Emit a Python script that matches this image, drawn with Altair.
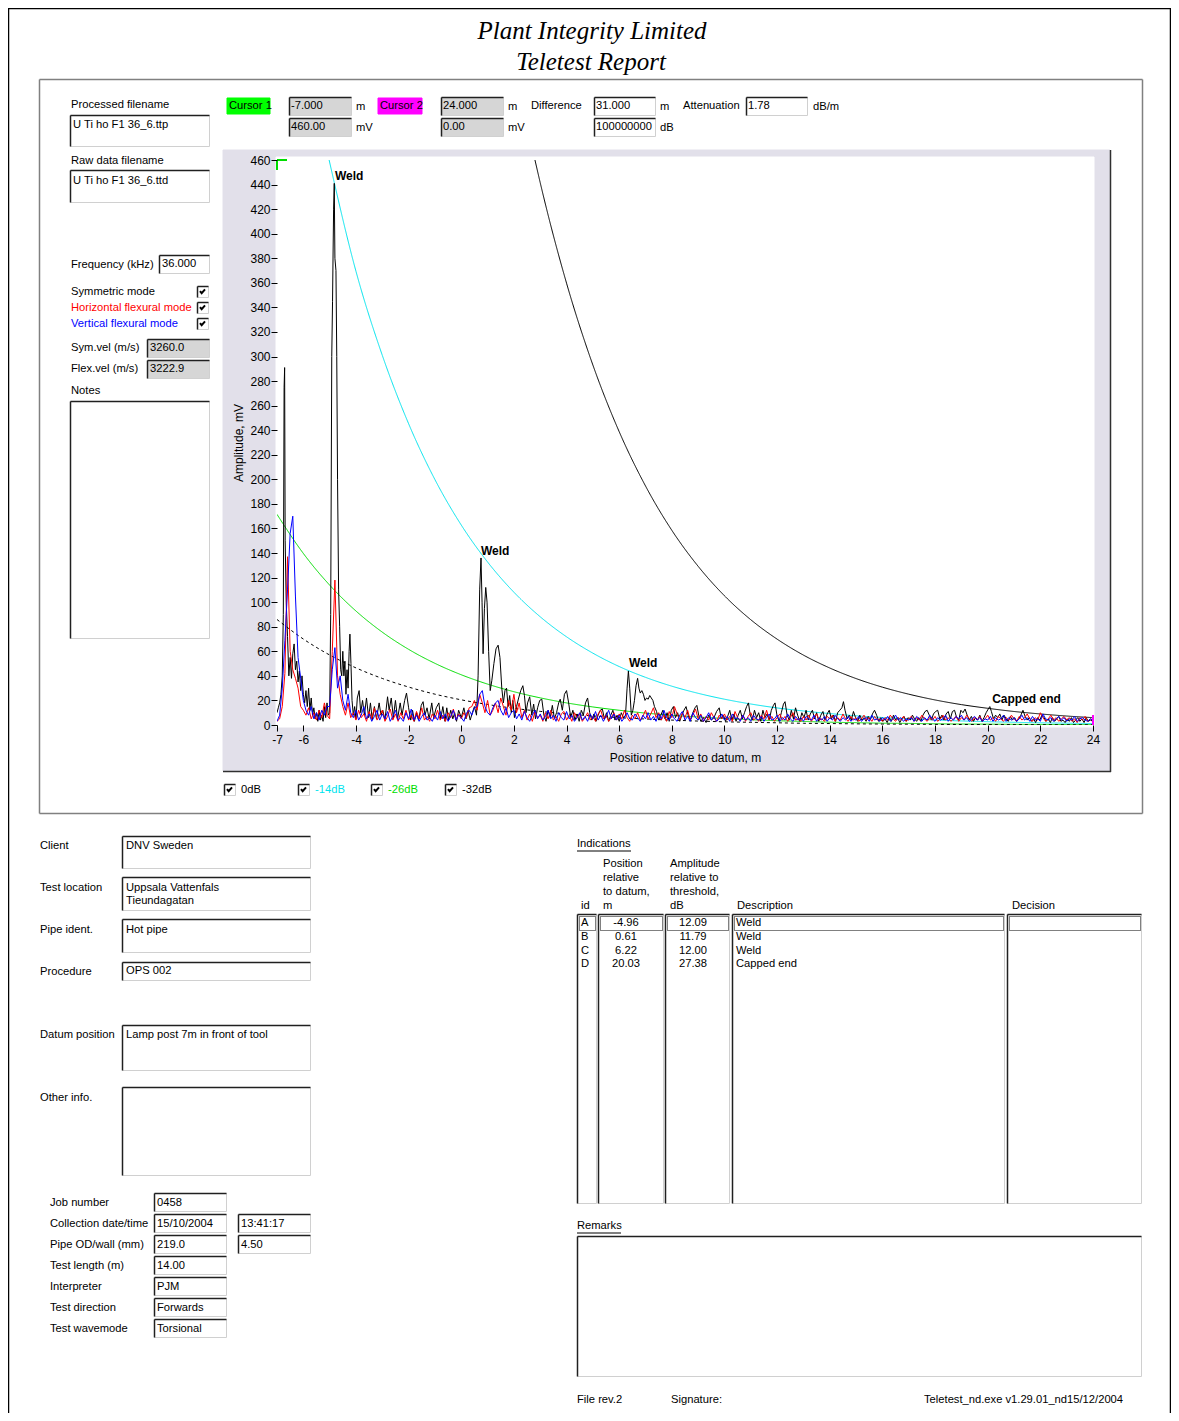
import altair as alt
import pandas as pd

# ---------------- chart values ----------------
x_ticks = [-7, -6, -4, -2, 0, 2, 4, 6, 8, 10, 12, 14, 16, 18, 20, 22, 24]
y_ticks = list(range(0, 461, 20))

dac_names = ["0dB", "-14dB", "-26dB", "-32dB"]
dac_colors = ["#000000", "#00e4ee", "#00dd00", "#000000"]

dac0_pos = [2.8, 3, 4, 5, 6, 7, 8, 9, 10, 11, 12, 13, 14, 15, 16, 17, 18, 19, 20, 21, 22, 23, 24]
dac0_amp = [460, 441.5, 359.7, 293.1, 238.8, 194.6, 158.5, 129.2, 105.2, 85.7, 69.9, 56.9,
            46.4, 37.8, 30.8, 25.1, 20.4, 16.6, 13.6, 11.0, 9.0, 7.3, 6.0]
dac14_pos = [-5.02, -4, -3, -2, -1, 0, 1, 2, 3, 4, 5, 6, 7, 8, 9, 10, 11, 12, 13, 14, 15,
             16, 17, 18, 19, 20, 21, 22, 23, 24]
dac14_amp = [460, 369.4, 301.0, 245.3, 199.8, 162.8, 132.7, 108.1, 88.1, 71.8, 58.5, 47.6,
             38.8, 31.6, 25.8, 21.0, 17.1, 13.9, 11.4, 9.3, 7.5, 6.1, 5.0, 4.1, 3.3, 2.7,
             2.2, 1.8, 1.5, 1.2]
dac26_pos = [-7, -6, -5, -4, -3, -2, -1, 0, 1, 2, 3, 4, 5, 6, 7, 8, 9, 10, 11, 12, 13, 14,
             15, 16, 17, 18, 19, 20, 21, 22, 23, 24]
dac26_amp = [171.5, 139.7, 113.9, 92.8, 75.6, 61.6, 50.2, 40.9, 33.3, 27.1, 22.1, 18.0, 14.7,
             12.0, 9.7, 7.9, 6.5, 5.3, 4.3, 3.5, 2.9, 2.3, 1.9, 1.5, 1.3, 1.0, 0.8, 0.7,
             0.55, 0.45, 0.37, 0.3]
dac32_pos = [-7, -6, -5, -4, -3, -2, -1, 0, 1, 2, 3, 4, 5, 6, 7, 8, 9, 10, 11, 12, 13, 14,
             15, 16, 17, 18, 19, 20, 21, 22, 23, 24]
dac32_amp = [85.9, 70.0, 57.0, 46.5, 37.9, 30.9, 25.1, 20.5, 16.7, 13.6, 11.1, 9.0, 7.4, 6.0,
             4.9, 4.0, 3.2, 2.6, 2.2, 1.8, 1.4, 1.2, 0.95, 0.77, 0.63, 0.51, 0.42, 0.34,
             0.28, 0.23, 0.18, 0.15]

# symmetric-mode trace (black), read as (position m, amplitude mV)
black_trace = [
    (-7.00, 10), (-6.95, 14), (-6.90, 18), (-6.85, 25), (-6.80, 40), (-6.76, 90), (-6.73, 275),
    (-6.71, 291), (-6.69, 150), (-6.65, 100), (-6.60, 72), (-6.55, 40), (-6.50, 55), (-6.45, 38),
    (-6.40, 58), (-6.35, 66), (-6.30, 45), (-6.25, 52), (-6.20, 35), (-6.15, 44), (-6.10, 28),
    (-6.05, 40), (-6.00, 25), (-5.95, 18), (-5.90, 28), (-5.85, 15), (-5.80, 30), (-5.75, 12),
    (-5.70, 22), (-5.65, 8), (-5.60, 14), (-5.55, 5), (-5.50, 10), (-5.45, 3), (-5.40, 12),
    (-5.35, 4), (-5.30, 8), (-5.25, 3), (-5.20, 15), (-5.15, 6), (-5.10, 18), (-5.05, 8),
    (-5.00, 10), (-4.96, 90), (-4.92, 300), (-4.89, 345), (-4.85, 420), (-4.825, 441),
    (-4.80, 380), (-4.76, 370), (-4.73, 300), (-4.70, 200), (-4.66, 110), (-4.62, 80),
    (-4.58, 45), (-4.54, 40), (-4.50, 60), (-4.46, 40), (-4.42, 52), (-4.38, 25), (-4.34, 45),
    (-4.30, 30), (-4.26, 60), (-4.23, 74), (-4.19, 50), (-4.15, 20), (-4.10, 8), (-4.05, 15),
    (-4.00, 5), (-3.95, 22), (-3.88, 28), (-3.82, 10), (-3.75, 20), (-3.68, 8), (-3.60, 22),
    (-3.52, 6), (-3.45, 18), (-3.38, 4), (-3.30, 15), (-3.22, 5), (-3.12, 18), (-3.05, 8),
    (-2.98, 12), (-2.90, 4), (-2.80, 23), (-2.74, 12), (-2.66, 22), (-2.58, 6), (-2.50, 20),
    (-2.42, 5), (-2.32, 18), (-2.25, 8), (-2.15, 20), (-2.08, 26), (-2.00, 14), (-1.92, 4),
    (-1.85, 12), (-1.78, 3), (-1.70, 10), (-1.62, 4), (-1.52, 16), (-1.45, 19), (-1.38, 8),
    (-1.30, 14), (-1.22, 5), (-1.12, 18), (-1.05, 6), (-0.95, 14), (-0.85, 18), (-0.78, 5),
    (-0.70, 15), (-0.62, 3), (-0.55, 14), (-0.48, 4), (-0.40, 12), (-0.32, 5), (-0.25, 10),
    (-0.18, 3), (-0.10, 12), (0.00, 6), (0.10, 14), (0.18, 5), (0.26, 12), (0.34, 4),
    (0.42, 10), (0.50, 15), (0.58, 8), (0.64, 40), (0.70, 110), (0.75, 136), (0.79, 100),
    (0.83, 58), (0.88, 95), (0.93, 112), (0.98, 100), (1.04, 60), (1.10, 28), (1.16, 36),
    (1.24, 50), (1.32, 62), (1.40, 65), (1.47, 55), (1.54, 30), (1.60, 18), (1.66, 28),
    (1.72, 30), (1.78, 15), (1.84, 24), (1.90, 10), (1.96, 20), (2.02, 6), (2.10, 15),
    (2.18, 22), (2.26, 28), (2.34, 32), (2.40, 24), (2.46, 10), (2.52, 18), (2.60, 23),
    (2.68, 8), (2.75, 17), (2.82, 5), (2.90, 14), (2.98, 20), (3.06, 21), (3.14, 8), (3.22, 3),
    (3.30, 12), (3.38, 6), (3.46, 16), (3.54, 5), (3.62, 10), (3.70, 18), (3.76, 21),
    (3.84, 12), (3.92, 25), (4.00, 28), (4.08, 18), (4.16, 6), (4.24, 12), (4.32, 4),
    (4.40, 9), (4.48, 3), (4.56, 12), (4.64, 8), (4.72, 18), (4.80, 22), (4.88, 10), (4.96, 4),
    (5.04, 9), (5.12, 3), (5.20, 8), (5.28, 12), (5.36, 13), (5.44, 5), (5.52, 10), (5.60, 3),
    (5.68, 8), (5.76, 12), (5.84, 4), (5.92, 8), (6.00, 3), (6.08, 10), (6.16, 6), (6.24, 8),
    (6.30, 30), (6.35, 44), (6.40, 30), (6.46, 8), (6.52, 12), (6.58, 20), (6.64, 32),
    (6.70, 38), (6.75, 30), (6.80, 26), (6.86, 28), (6.92, 25), (6.98, 20), (7.04, 22),
    (7.10, 21), (7.16, 24), (7.22, 22), (7.28, 20), (7.34, 15), (7.42, 11), (7.50, 4),
    (7.58, 8), (7.66, 12), (7.74, 5), (7.82, 10), (7.90, 3), (7.98, 12), (8.06, 15), (8.14, 6),
    (8.22, 10), (8.30, 3), (8.38, 8), (8.46, 12), (8.54, 15), (8.62, 8), (8.70, 4), (8.80, 10),
    (8.88, 14), (8.95, 16), (9.02, 8), (9.10, 3), (9.20, 6), (9.30, 2), (9.40, 8), (9.50, 4),
    (9.60, 6), (9.70, 11), (9.80, 14), (9.88, 5), (9.96, 8), (10.04, 3), (10.12, 7),
    (10.20, 12), (10.28, 4), (10.36, 9), (10.44, 3), (10.52, 8), (10.60, 12), (10.68, 5),
    (10.76, 10), (10.84, 15), (10.91, 18), (10.98, 8), (11.06, 4), (11.14, 12), (11.22, 6),
    (11.30, 10), (11.38, 3), (11.46, 12), (11.54, 6), (11.62, 9), (11.70, 4), (11.78, 12),
    (11.86, 16), (11.92, 18), (12.00, 7), (12.08, 3), (12.16, 10), (12.24, 17), (12.30, 19),
    (12.38, 8), (12.46, 4), (12.54, 12), (12.62, 5), (12.70, 14), (12.78, 8), (12.86, 3),
    (12.94, 10), (13.02, 6), (13.10, 12), (13.18, 4), (13.26, 9), (13.34, 12), (13.42, 5),
    (13.50, 10), (13.58, 3), (13.66, 8), (13.74, 11), (13.82, 4), (13.90, 9), (13.98, 12),
    (14.06, 5), (14.14, 8), (14.22, 3), (14.30, 10), (14.38, 12), (14.46, 14), (14.52, 19),
    (14.58, 12), (14.66, 5), (14.74, 8), (14.82, 4), (14.90, 11), (14.98, 6), (15.06, 3),
    (15.14, 8), (15.22, 4), (15.30, 6), (15.38, 3), (15.46, 7), (15.54, 4), (15.62, 9),
    (15.70, 12), (15.78, 8), (15.86, 3), (15.94, 6), (16.02, 3), (16.10, 5), (16.18, 2),
    (16.26, 6), (16.34, 3), (16.42, 8), (16.50, 4), (16.58, 6), (16.66, 2), (16.74, 5),
    (16.82, 7), (16.90, 3), (16.98, 6), (17.06, 4), (17.14, 8), (17.22, 5), (17.30, 3),
    (17.38, 6), (17.46, 3), (17.54, 8), (17.62, 11), (17.70, 12), (17.78, 8), (17.86, 4),
    (17.94, 9), (18.02, 11), (18.10, 12), (18.18, 5), (18.26, 8), (18.34, 4), (18.42, 9),
    (18.50, 11), (18.58, 5), (18.66, 11), (18.74, 12), (18.82, 6), (18.90, 4), (18.98, 12),
    (19.06, 10), (19.14, 13), (19.22, 8), (19.30, 4), (19.38, 7), (19.46, 3), (19.54, 6),
    (19.62, 4), (19.70, 8), (19.78, 3), (19.86, 6), (19.94, 10), (20.02, 13), (20.08, 15),
    (20.14, 11), (20.22, 5), (20.30, 8), (20.38, 6), (20.46, 9), (20.54, 4), (20.62, 8),
    (20.70, 5), (20.78, 3), (20.86, 7), (20.94, 4), (21.02, 6), (21.10, 3), (21.18, 5),
    (21.26, 8), (21.34, 12), (21.42, 7), (21.50, 4), (21.58, 6), (21.66, 3), (21.74, 5),
    (21.82, 2), (21.90, 6), (21.98, 4), (22.06, 8), (22.14, 6), (22.22, 3), (22.30, 5),
    (22.38, 2), (22.46, 6), (22.54, 3), (22.62, 5), (22.70, 7), (22.78, 3), (22.86, 4),
    (22.94, 2), (23.02, 5), (23.10, 3), (23.18, 6), (23.26, 2), (23.34, 4), (23.42, 6),
    (23.50, 3), (23.58, 5), (23.66, 2), (23.74, 6), (23.82, 3), (23.90, 4), (24.00, 3),
]

# flexural traces sampled every 0.1 m from -7.0 m
trace_start = -7.0
trace_step = 0.1
red_amp = [
    3, 5, 15, 42, 137, 60, 45, 38, 30, 15,
    12, 8, 14, 5, 10, 4, 12, 6, 18, 8,
    5, 60, 118, 40, 25, 15, 8, 18, 6, 10,
    4, 12, 6, 9, 3, 11, 5, 14, 4, 8,
    12, 3, 7, 13, 4, 9, 3, 10, 5, 12,
    4, 8, 3, 11, 5, 14, 4, 7, 3, 9,
    5, 12, 4, 8, 3, 10, 6, 13, 4, 9,
    5, 10, 6, 14, 15, 20, 12, 25, 18, 10,
    20, 8, 12, 18, 10, 22, 15, 8, 20, 12,
    25, 10, 18, 6, 12, 4, 9, 3, 11, 6,
    8, 3, 10, 5, 12, 4, 7, 3, 9, 11,
    4, 8, 3, 10, 6, 9, 3, 6, 10, 4,
    7, 3, 9, 12, 5, 8, 3, 6, 10, 4,
    9, 5, 12, 6, 3, 8, 5, 10, 4, 7,
    12, 5, 9, 14, 6, 10, 4, 8, 3, 11,
    6, 15, 9, 4, 10, 6, 12, 4, 8, 13,
    5, 9, 3, 7, 4, 10, 6, 3, 8, 5,
    9, 4, 7, 3, 11, 6, 4, 8, 3, 7,
    10, 4, 6, 3, 8, 5, 12, 4, 7, 3,
    6, 9, 4, 7, 3, 6, 10, 4, 5, 3,
    7, 4, 8, 3, 6, 9, 4, 5, 3, 7,
    5, 8, 3, 6, 4, 9, 5, 3, 7, 4,
    6, 3, 5, 8, 4, 6, 3, 7, 4, 5,
    3, 6, 4, 8, 5, 3, 6, 4, 7, 3,
    5, 7, 3, 6, 4, 8, 5, 3, 6, 4,
    7, 3, 5, 8, 4, 6, 3, 5, 7, 3,
    6, 4, 8, 5, 3, 6, 4, 7, 3, 5,
    8, 4, 6, 3, 7, 5, 3, 6, 4, 8,
    5, 3, 7, 4, 6, 9, 5, 3, 6, 4,
    10, 6, 3, 5, 8, 4, 6, 3, 5, 7,
    4, 6, 3, 5, 2, 6, 4, 7, 3, 5,
    4,
]
blue_amp = [
    3, 8, 30, 69, 110, 156, 170, 105, 55, 38,
    20, 12, 8, 15, 5, 10, 4, 12, 8, 15,
    15, 45, 63, 30, 40, 20, 12, 25, 10, 6,
    12, 4, 8, 15, 5, 9, 3, 7, 12, 4,
    9, 5, 11, 3, 7, 12, 4, 6, 3, 10,
    5, 13, 4, 8, 3, 7, 10, 4, 6, 3,
    8, 4, 11, 5, 9, 3, 7, 12, 4, 8,
    6, 3, 10, 12, 8, 14, 15, 25, 28, 15,
    10, 8, 14, 18, 20, 12, 8, 14, 6, 10,
    12, 5, 9, 4, 11, 6, 3, 8, 12, 5,
    9, 4, 7, 12, 5, 8, 3, 10, 6, 4,
    11, 5, 8, 3, 6, 10, 4, 7, 3, 9,
    5, 11, 4, 8, 3, 7, 12, 5, 9, 4,
    8, 3, 6, 10, 5, 4, 9, 6, 3, 8,
    5, 10, 4, 7, 3, 9, 5, 12, 6, 4,
    9, 5, 3, 8, 11, 4, 7, 3, 10, 6,
    4, 8, 3, 6, 10, 4, 7, 3, 5, 9,
    4, 7, 3, 9, 5, 6, 3, 8, 4, 6,
    3, 8, 5, 4, 7, 3, 6, 9, 4, 5,
    8, 3, 6, 4, 9, 5, 3, 7, 4, 6,
    3, 7, 5, 4, 8, 3, 6, 4, 7, 3,
    6, 4, 8, 5, 3, 6, 4, 7, 3, 5,
    4, 7, 3, 5, 6, 3, 8, 4, 5, 3,
    6, 4, 7, 3, 5, 8, 4, 6, 3, 5,
    4, 6, 3, 7, 5, 3, 6, 4, 8, 5,
    3, 6, 4, 5, 8, 3, 6, 4, 7, 5,
    8, 4, 6, 3, 5, 7, 4, 6, 3, 5,
    4, 7, 3, 6, 4, 5, 8, 3, 6, 4,
    6, 3, 5, 8, 4, 6, 3, 7, 4, 5,
    3, 9, 5, 4, 6, 3, 5, 7, 4, 6,
    3, 5, 4, 7, 3, 5, 6, 4, 3, 5,
    4,
]

# feature labels on the plot
label_text = ["Weld", "Weld", "Weld", "Capped end"]
label_pos = [-4.80, 0.75, 6.37, 20.17]
label_amp = [447, 142, 50.5, 21.2]

# cursors
cursor_pos = [-7.0, 24.0]
cursor_amp = [460.0, 0.0]
attenuation = "1.78"
diff_db = "100000000"

# indications table
ind_id = ["A", "B", "C", "D"]
ind_pos = ["-4.96", "0.61", "6.22", "20.03"]
ind_amp = ["12.09", "11.79", "12.00", "27.38"]
ind_desc = ["Weld", "Weld", "Weld", "Capped end"]

# report heading and form values
title_lines = ["Plant Integrity Limited", "Teletest Report"]
processed_file = "U Ti ho F1 36_6.ttp"
raw_file = "U Ti ho F1 36_6.ttd"
frequency = "36.000"
sym_vel = "3260.0"
flex_vel = "3222.9"
client = "DNV Sweden"
location = ["Uppsala Vattenfals", "Tieundagatan"]
pipe_ident = "Hot pipe"
procedure = "OPS 002"
datum = "Lamp post 7m in front of tool"
job_number = "0458"
coll_date, coll_time = "15/10/2004", "13:41:17"
pipe_od, pipe_wall = "219.0", "4.50"
test_length = "14.00"
interpreter = "PJM"
direction = "Forwards"
wavemode = "Torsional"

# ---------------- layout (page pixels) ----------------
UI = "Liberation Sans"
FS = 11.2
OX, OY = 277, 160          # page position of the plot origin
PW, PH = 816, 565           # plot size
GRAY = "#d6d6d6"
PANEL = "#e2e0ea"

sunken = [
    (70, 115, 209, 146, "white"), (70, 170, 209, 202, "white"), (159, 255, 209, 273, "white"),
    (147, 339, 209, 357, GRAY), (147, 360, 209, 378, GRAY), (70, 401, 209, 638, "white"),
    (289, 97, 351, 115, GRAY), (289, 118, 351, 136, GRAY), (441, 97, 503, 115, GRAY),
    (441, 118, 503, 136, GRAY), (594, 97, 655, 115, "white"), (594, 118, 655, 136, "white"),
    (746, 97, 807, 115, "white"),
    (197, 286, 208, 297, "white"), (197, 302, 208, 313, "white"), (197, 318, 208, 329, "white"),
    (224, 784, 235, 795, "white"), (298, 784, 309, 795, "white"), (371, 784, 382, 795, "white"),
    (445, 784, 456, 795, "white"),
    (122, 836, 310, 868, "white"), (122, 877, 310, 910, "white"), (122, 919, 310, 952, "white"),
    (122, 962, 310, 980, "white"), (122, 1025, 310, 1070, "white"), (122, 1087, 310, 1175, "white"),
    (154, 1193, 226, 1211, "white"), (154, 1214, 226, 1232, "white"), (238, 1214, 310, 1232, "white"),
    (154, 1235, 226, 1253, "white"), (238, 1235, 310, 1253, "white"), (154, 1256, 226, 1274, "white"),
    (154, 1277, 226, 1295, "white"), (154, 1298, 226, 1316, "white"), (154, 1319, 226, 1337, "white"),
    (577, 914, 596, 1203, "white"), (598, 914, 663, 1203, "white"), (665, 914, 729, 1203, "white"),
    (732, 914, 1004, 1203, "white"), (1007, 914, 1141, 1203, "white"), (577, 1236, 1141, 1376, "white"),
]
flat = [
    (223, 150, 1110, 771, PANEL, PANEL),
    (276, 157, 1094, 727, "white", "white"),
    (227, 98, 270, 114, "#00ff00", "#00ff00"),
    (378, 98, 422, 114, "#ff00ff", "#ff00ff"),
]

rect_rows = [dict(x1=a, y1=b, x2=c, y2=d, fill=f, stroke=s) for a, b, c, d, f, s in flat]
rect_rows += [dict(x1=a + 0.5, y1=b + 0.5, x2=c + 0.5, y2=d + 0.5, fill=f, stroke="#d0d0d0")
              for a, b, c, d, f in sunken]
rect_df = pd.DataFrame(rect_rows)

line_rows = [
    dict(x1=8.5, y1=8, x2=8.5, y2=1421, color="#000000", w=1.5),
    dict(x1=8, y1=8.5, x2=1171, y2=8.5, color="#000000", w=1.5),
    dict(x1=1170.5, y1=8, x2=1170.5, y2=1421, color="#000000", w=1.5),
    dict(x1=39.5, y1=79.5, x2=1142.5, y2=79.5, color="#808080", w=1.5),
    dict(x1=39.5, y1=79.5, x2=39.5, y2=813.5, color="#808080", w=1.5),
    dict(x1=1142.5, y1=79.5, x2=1142.5, y2=813.5, color="#808080", w=1.5),
    dict(x1=39.5, y1=813.5, x2=1142.5, y2=813.5, color="#808080", w=1.5),
    dict(x1=1110.5, y1=150, x2=1110.5, y2=772, color="#303030", w=1.5),
    dict(x1=223, y1=771.5, x2=1111, y2=771.5, color="#303030", w=1.5),
    dict(x1=577, y1=851, x2=631, y2=851, color="#000000", w=1),
    dict(x1=577, y1=1233, x2=621, y2=1233, color="#000000", w=1),
]
for a, b, c, d, f in sunken:
    line_rows.append(dict(x1=a + 0.5, y1=b + 0.5, x2=c + 0.5, y2=b + 0.5, color="#202020", w=1.5))
    line_rows.append(dict(x1=a + 0.5, y1=b + 0.5, x2=a + 0.5, y2=d + 0.5, color="#202020", w=1.5))
line_df = pd.DataFrame(line_rows)

focus = [(579, 916, 595, 930), (600, 916, 662, 930), (667, 916, 728, 930),
         (734, 916, 1003, 930), (1009, 916, 1140, 930)]
focus_df = pd.DataFrame([dict(x1=a + 0.5, y1=b + 0.5, x2=c + 0.5, y2=d + 0.5) for a, b, c, d in focus])

check_centres = [(202.5, 291.5), (202.5, 307.5), (202.5, 323.5),
                 (229.5, 789.5), (303.5, 789.5), (376.5, 789.5), (450.5, 789.5)]
check_df = pd.DataFrame([dict(x1=a, y1=b) for a, b in check_centres])

BLK, RED, BLU = "#000000", "#ff0000", "#0000ff"
left_texts = [
    (71, 105, "Processed filename", BLK), (73, 125, processed_file, BLK),
    (71, 161, "Raw data filename", BLK), (73, 181, raw_file, BLK),
    (71, 265, "Frequency (kHz)", BLK), (162, 264, frequency, BLK),
    (71, 292, "Symmetric mode", BLK), (71, 308, "Horizontal flexural mode", RED),
    (71, 324, "Vertical flexural mode", BLU),
    (71, 348, "Sym.vel (m/s)", BLK), (150, 348, sym_vel, BLK),
    (71, 369, "Flex.vel (m/s)", BLK), (150, 369, flex_vel, BLK),
    (71, 391, "Notes", BLK),
    (229, 106, "Cursor 1", BLK), (291, 106, f"{cursor_pos[0]:.3f}", BLK), (356, 107, "m", BLK),
    (291, 127, f"{cursor_amp[0]:.2f}", BLK), (356, 128, "mV", BLK),
    (380, 106, "Cursor 2", BLK), (443, 106, f"{cursor_pos[1]:.3f}", BLK), (508, 107, "m", BLK),
    (443, 127, f"{cursor_amp[1]:.2f}", BLK), (508, 128, "mV", BLK),
    (531, 106, "Difference", BLK), (596, 106, f"{cursor_pos[1] - cursor_pos[0]:.3f}", BLK),
    (660, 107, "m", BLK), (683, 106, "Attenuation", BLK), (748, 106, attenuation, BLK),
    (813, 107, "dB/m", BLK), (596, 127, diff_db, BLK), (660, 128, "dB", BLK),
    (40, 846, "Client", BLK), (126, 846, client, BLK),
    (40, 888, "Test location", BLK), (126, 888, location[0], BLK), (126, 901, location[1], BLK),
    (40, 930, "Pipe ident.", BLK), (126, 930, pipe_ident, BLK),
    (40, 972, "Procedure", BLK), (126, 971, procedure, BLK),
    (40, 1035, "Datum position", BLK), (126, 1035, datum, BLK),
    (40, 1098, "Other info.", BLK),
    (50, 1203, "Job number", BLK), (157, 1203, job_number, BLK),
    (50, 1224, "Collection date/time", BLK), (157, 1224, coll_date, BLK), (241, 1224, coll_time, BLK),
    (50, 1245, "Pipe OD/wall (mm)", BLK), (157, 1245, pipe_od, BLK), (241, 1245, pipe_wall, BLK),
    (50, 1266, "Test length (m)", BLK), (157, 1266, test_length, BLK),
    (50, 1287, "Interpreter", BLK), (157, 1287, interpreter, BLK),
    (50, 1308, "Test direction", BLK), (157, 1308, direction, BLK),
    (50, 1329, "Test wavemode", BLK), (157, 1329, wavemode, BLK),
    (577, 844, "Indications", BLK),
    (603, 864, "Position", BLK), (603, 878, "relative", BLK), (603, 892, "to datum,", BLK), (603, 906, "m", BLK),
    (670, 864, "Amplitude", BLK), (670, 878, "relative to", BLK), (670, 892, "threshold,", BLK), (670, 906, "dB", BLK),
    (581, 906, "id", BLK), (737, 906, "Description", BLK), (1012, 906, "Decision", BLK),
    (577, 1226, "Remarks", BLK),
    (577, 1400, "File rev.2", BLK), (671, 1400, "Signature:", BLK),
    (924, 1400, "Teletest_nd.exe v1.29.01_nd15/12/2004", BLK),
]
row_y = [923, 937, 951, 964]
for i in range(len(ind_id)):
    left_texts.append((581, row_y[i], ind_id[i], BLK))
    left_texts.append((736, row_y[i], ind_desc[i], BLK))
ltext_df = pd.DataFrame([dict(x1=a, y1=b, text=t, color=c) for a, b, t, c in left_texts])

centre_texts = []
for i in range(len(ind_id)):
    centre_texts.append((626, row_y[i], ind_pos[i]))
    centre_texts.append((693, row_y[i], ind_amp[i]))
ctext_df = pd.DataFrame([dict(x1=a, y1=b, text=t) for a, b, t in centre_texts])

title_xy = [(592, 31), (591, 62)]
title_df = pd.DataFrame([dict(x1=a, y1=b, text=t) for (a, b), t in zip(title_xy, title_lines)])

legend_xy = [(241, 790), (315, 790), (388, 790), (462, 790)]
legend_df = pd.DataFrame([dict(x1=a, y1=b, curve=n) for (a, b), n in zip(legend_xy, dac_names)])

for df in (rect_df, line_df, focus_df):
    df["x1"] -= OX; df["x2"] -= OX; df["y1"] -= OY; df["y2"] -= OY
for df in (check_df, ltext_df, ctext_df, legend_df, title_df):
    df["x1"] -= OX; df["y1"] -= OY

# ---------------- data tables ----------------
dac_rows = []
for name, xs, ys in zip(dac_names, [dac0_pos, dac14_pos, dac26_pos, dac32_pos],
                        [dac0_amp, dac14_amp, dac26_amp, dac32_amp]):
    dac_rows += [dict(curve=name, pos=x, amp=y) for x, y in zip(xs, ys)]
dac_df = pd.DataFrame(dac_rows)

grid = [round(trace_start + trace_step * i, 1) for i in range(len(red_amp))]
red_df = pd.DataFrame({"pos": grid, "amp": red_amp})
blue_df = pd.DataFrame({"pos": grid[:len(blue_amp)], "amp": blue_amp})
black_df = pd.DataFrame(black_trace, columns=["pos", "amp"])
label_df = pd.DataFrame({"pos": label_pos, "amp": label_amp, "text": label_text})
cursor_df = pd.DataFrame({"pos": cursor_pos, "amp": cursor_amp,
                          "shape": ["M0,0L0,1M0,0L1,0", "M0,0L0,-1"],
                          "col": ["#00dd00", "#ff00ff"]})

# ---------------- encodings ----------------
x_axis = alt.Axis(values=x_ticks, title="Position relative to datum, m",
                  labelExpr="datum.value < 0 ? '-' + abs(datum.value) : '' + datum.value",
                  domain=False, grid=False, tickSize=6, tickColor="black", labelColor="black",
                  labelFont=UI, labelFontSize=12, labelPadding=3, labelFlush=False,
                  labelOverlap=False, titleFont=UI, titleFontSize=12, titleFontWeight="normal",
                  titleColor="black", titlePadding=7, zindex=1)
y_axis = alt.Axis(values=y_ticks, title="Amplitude, mV", domain=False, grid=False, tickSize=6,
                  tickColor="black", labelColor="black", labelFont=UI, labelFontSize=12,
                  labelPadding=1, labelOverlap=False, titleFont=UI, titleFontSize=12,
                  titleFontWeight="normal", titleColor="black", titlePadding=4, zindex=1)
X = alt.X("pos:Q", scale=alt.Scale(domain=[-7, 24], nice=False, zero=False), axis=x_axis)
Y = alt.Y("amp:Q", scale=alt.Scale(domain=[0, 460], nice=False, zero=False), axis=y_axis)
dac_scale = alt.Scale(domain=dac_names, range=dac_colors)

PX = alt.X("x1:Q", scale=None, axis=None)
PY = alt.Y("y1:Q", scale=None, axis=None)

rects = alt.Chart(rect_df).mark_rect(strokeWidth=1).encode(
    x=PX, x2="x2:Q", y=PY, y2="y2:Q",
    fill=alt.Fill("fill:N", scale=None), stroke=alt.Stroke("stroke:N", scale=None))
lines = alt.Chart(line_df).mark_rule().encode(
    x=PX, x2="x2:Q", y=PY, y2="y2:Q",
    color=alt.Color("color:N", scale=None), strokeWidth=alt.StrokeWidth("w:Q", scale=None))
focus_rects = alt.Chart(focus_df).mark_rect(fill=None, stroke="#000000", strokeWidth=1,
                                            strokeDash=[1, 1]).encode(
    x=PX, x2="x2:Q", y=PY, y2="y2:Q")
checks = alt.Chart(check_df).mark_point(
    shape="M-0.6,-0.1L-0.2,0.4L0.6,-0.5", size=70, filled=False, strokeWidth=2,
    color="#000000", opacity=1).encode(x=PX, y=PY)
ltexts = alt.Chart(ltext_df).mark_text(align="left", baseline="middle", font=UI, fontSize=FS).encode(
    x=PX, y=PY, text="text:N", color=alt.Color("color:N", scale=None))
ctexts = alt.Chart(ctext_df).mark_text(align="center", baseline="middle", font=UI, fontSize=FS,
                                       color="#000000").encode(x=PX, y=PY, text="text:N")
titles = alt.Chart(title_df).mark_text(align="center", baseline="middle", font="Liberation Serif",
                                       fontStyle="italic", fontSize=25, color="#000000").encode(
    x=PX, y=PY, text="text:N")
legend_texts = alt.Chart(legend_df).mark_text(align="left", baseline="middle", font=UI,
                                              fontSize=FS).encode(
    x=PX, y=PY, text="curve:N", color=alt.Color("curve:N", scale=dac_scale, legend=None))

dac_lines = alt.Chart(dac_df).mark_line(interpolate="monotone", strokeWidth=1, clip=True).encode(
    x=X, y=Y, color=alt.Color("curve:N", scale=dac_scale, legend=None),
    strokeDash=alt.StrokeDash("curve:N", scale=alt.Scale(domain=dac_names,
                                                         range=[[1, 0], [1, 0], [1, 0], [3, 3]]),
                              legend=None),
    detail="curve:N")
black_line = alt.Chart(black_df).mark_line(color="#000000", strokeWidth=1, clip=True).encode(x=X, y=Y)
red_line = alt.Chart(red_df).mark_line(color="#ff0000", strokeWidth=1, clip=True).encode(x=X, y=Y)
blue_line = alt.Chart(blue_df).mark_line(color="#0000ff", strokeWidth=1, clip=True).encode(x=X, y=Y)
labels = alt.Chart(label_df).mark_text(align="left", baseline="middle", font=UI, fontSize=12,
                                       fontWeight="bold", color="#000000").encode(
    x=X, y=Y, text="text:N")
cursors = alt.Chart(cursor_df).mark_point(size=400, filled=False, strokeWidth=2, opacity=1).encode(
    x=X, y=Y, shape=alt.Shape("shape:N", scale=None), color=alt.Color("col:N", scale=None))

chart = alt.layer(
    rects, lines, focus_rects, checks, ltexts, ctexts, titles, legend_texts,
    dac_lines, black_line, red_line, blue_line, labels, cursors,
).properties(
    width=PW, height=PH,
    autosize=alt.AutoSizeParams(type="none"),
    padding={"left": OX - 8, "top": OY - 8, "right": 1163 - (OX - 8) - PW,
             "bottom": 1405 - (OY - 8) - PH},
).configure_view(stroke=None).configure(background="white")

chart.save("out.html", embed_options={"renderer": "svg", "actions": False})
